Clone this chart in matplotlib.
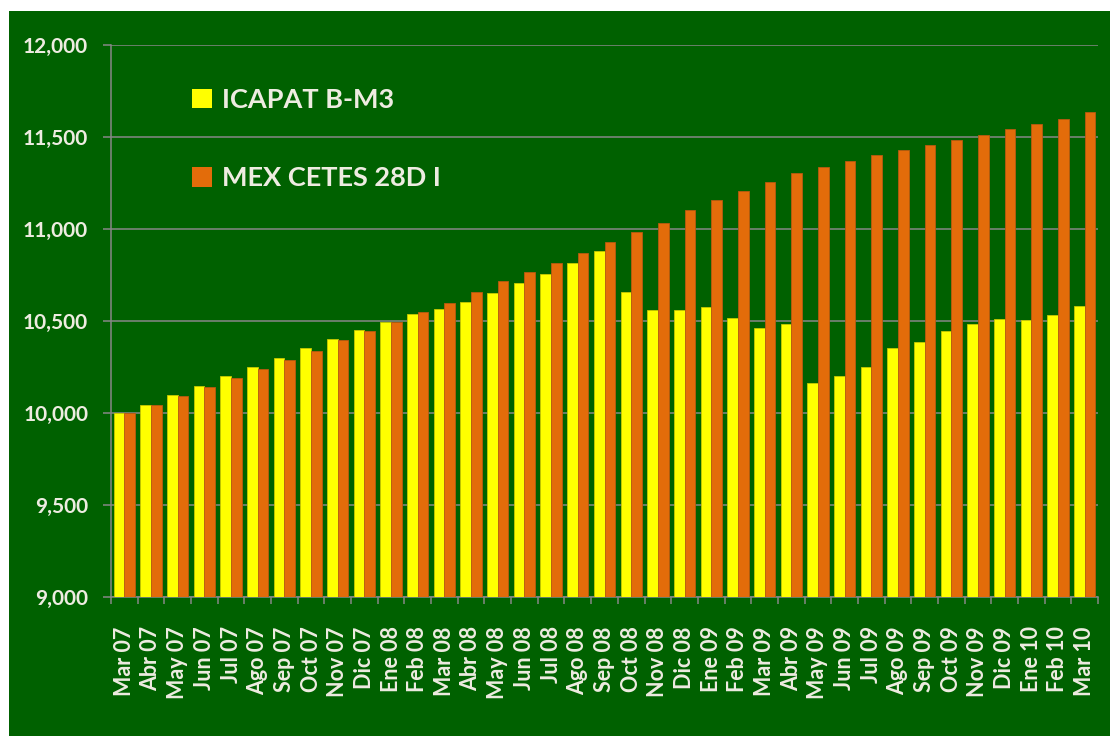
import matplotlib
matplotlib.use("Agg")
import matplotlib.pyplot as plt
from matplotlib.patches import Rectangle
import numpy as np

months = ["Mar 07", "Abr 07", "May 07", "Jun 07", "Jul 07", "Ago 07", "Sep 07", "Oct 07",
          "Nov 07", "Dic 07", "Ene 08", "Feb 08", "Mar 08", "Abr 08", "May 08", "Jun 08",
          "Jul 08", "Ago 08", "Sep 08", "Oct 08", "Nov 08", "Dic 08", "Ene 09", "Feb 09",
          "Mar 09", "Abr 09", "May 09", "Jun 09", "Jul 09", "Ago 09", "Sep 09", "Oct 09",
          "Nov 09", "Dic 09", "Ene 10", "Feb 10", "Mar 10"]

icapat = [10000, 10041, 10099, 10148, 10199, 10248, 10297, 10355, 10404, 10453,
          10495, 10536, 10567, 10601, 10650, 10708, 10757, 10815, 10880, 10659,
          10560, 10560, 10576, 10518, 10462, 10485, 10165, 10199, 10248, 10355,
          10388, 10446, 10485, 10511, 10503, 10534, 10583]

cetes = [10000, 10041, 10090, 10141, 10190, 10239, 10288, 10337, 10395, 10444,
         10495, 10551, 10600, 10658, 10715, 10764, 10813, 10871, 10929, 10985,
         11034, 11101, 11159, 11208, 11257, 11306, 11339, 11371, 11404, 11429,
         11454, 11485, 11512, 11543, 11568, 11600, 11634]

series_names = ["ICAPAT B-M3", "MEX CETES 28D I"]
yticks = [9000, 9500, 10000, 10500, 11000, 11500, 12000]

GREEN = "#006100"
YELLOW = "#FFFF00"
ORANGE = "#E36C0A"
TXT = "#EEECE1"
GRID = "#878787"

plt.rcParams['font.family'] = ['Lato', 'DejaVu Sans']
plt.rcParams['font.weight'] = 'bold'

W, H = 1110, 738
fig = plt.figure(figsize=(W / 100, H / 100), dpi=100, facecolor="white")
# green chart area
bg = Rectangle((9 / W, 1 - 736 / H), (W - 9) / W, (736 - 11) / H,
               transform=fig.transFigure, facecolor=GREEN,
               edgecolor="none", zorder=-10)
fig.add_artist(bg)

ax = fig.add_axes([111 / W, 1 - 597 / H, (1098 - 111) / W, (597 - 45) / H])
ax.set_zorder(1)
ax.set_facecolor("none")

x = np.arange(len(months))
w = 0.4
ax.bar(x - w / 2, icapat, width=w, color=YELLOW, edgecolor="#C8C800",
       linewidth=0.6, label=series_names[0], zorder=3)
ax.bar(x + w / 2, cetes, width=w, color=ORANGE, edgecolor="#B85A10",
       linewidth=0.6, label=series_names[1], zorder=3)

ax.set_ylim(9000, 12000)
ax.set_xlim(-0.5, len(months) - 0.5)
ax.set_yticks(yticks)
ax.set_yticklabels([f"{v:,}" for v in yticks])
ax.yaxis.grid(True, color=GRID, linewidth=1.1, zorder=1)
ax.set_axisbelow(True)

ax.set_xticks(x)
ax.set_xticklabels(months, rotation=90)
ax.set_xticks(np.arange(len(months) + 1) - 0.5, minor=True)
ax.tick_params(axis='x', which='major', length=0, pad=21, labelsize=15.5, labelcolor=TXT)
ax.tick_params(axis='x', which='minor', length=5, width=1.1, color=GRID, direction='out')
ax.tick_params(axis='y', which='major', length=5.5, width=1.1, color=GRID, pad=11,
               labelsize=15, labelcolor=TXT)

for s in ["top", "right"]:
    ax.spines[s].set_visible(False)
for s in ["left", "bottom"]:
    ax.spines[s].set_color(GRID)
    ax.spines[s].set_linewidth(1.1)

leg = ax.legend(loc="upper left", bbox_to_anchor=(192 / W, 1 - 88 / H),
                bbox_transform=fig.transFigure, frameon=False,
                handlelength=0.75, handleheight=0.75, handletextpad=0.35,
                labelspacing=2.0, borderpad=0, borderaxespad=0,
                prop={'size': 19.5, 'weight': 'bold'})
for t in leg.get_texts():
    t.set_color(TXT)
for h in leg.legend_handles:
    h.set_linewidth(0)

fig.savefig("out.png", dpi=100, facecolor="white")
